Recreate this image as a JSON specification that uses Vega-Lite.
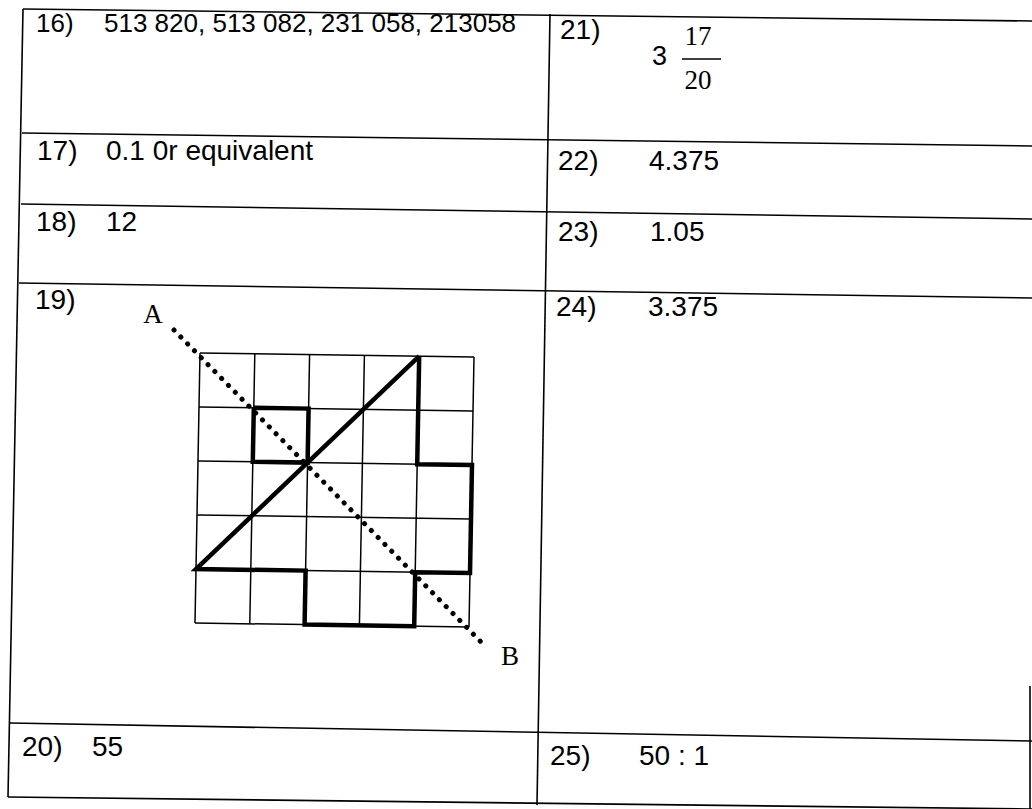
{
  "$schema": "https://vega.github.io/schema/vega-lite/v6.json",
  "width": 1032,
  "height": 809,
  "padding": 0,
  "autosize": {"type": "none"},
  "background": "white",
  "config": {"view": {"stroke": null}},
  "datasets": {
    "table": [
      {"x": 23, "y": 9, "x2": 1032, "y2": 21},
      {"x": 22, "y": 133, "x2": 1032, "y2": 146},
      {"x": 21, "y": 204, "x2": 1032, "y2": 219},
      {"x": 19, "y": 283, "x2": 1032, "y2": 298},
      {"x": 10, "y": 723, "x2": 1032, "y2": 741},
      {"x": 8, "y": 797, "x2": 1032, "y2": 809},
      {"x": 23, "y": 9, "x2": 8, "y2": 797},
      {"x": 550, "y": 14, "x2": 537, "y2": 805},
      {"x": 1030, "y": 686, "x2": 1030, "y2": 809}
    ],
    "grid": [
      {"x": 200, "y": 353, "x2": 195, "y2": 623},
      {"x": 254.8, "y": 353.8, "x2": 249.8, "y2": 623.8},
      {"x": 309.6, "y": 354.6, "x2": 304.6, "y2": 624.6},
      {"x": 364.4, "y": 355.4, "x2": 359.4, "y2": 625.4},
      {"x": 419.2, "y": 356.2, "x2": 414.2, "y2": 626.2},
      {"x": 474, "y": 357, "x2": 469, "y2": 627},
      {"x": 200, "y": 353, "x2": 474, "y2": 357},
      {"x": 199, "y": 407, "x2": 473, "y2": 411},
      {"x": 198, "y": 461, "x2": 472, "y2": 465},
      {"x": 197, "y": 515, "x2": 471, "y2": 519},
      {"x": 196, "y": 569, "x2": 470, "y2": 573},
      {"x": 195, "y": 623, "x2": 469, "y2": 627}
    ],
    "shape": [
      {"path": "outline", "k": 0, "x": 419.2, "y": 356.2},
      {"path": "outline", "k": 1, "x": 417.2, "y": 464.2},
      {"path": "outline", "k": 2, "x": 472, "y": 465},
      {"path": "outline", "k": 3, "x": 470, "y": 573},
      {"path": "outline", "k": 4, "x": 415.2, "y": 572.2},
      {"path": "outline", "k": 5, "x": 414.2, "y": 626.2},
      {"path": "outline", "k": 6, "x": 304.6, "y": 624.6},
      {"path": "outline", "k": 7, "x": 305.6, "y": 570.6},
      {"path": "outline", "k": 8, "x": 196, "y": 569},
      {"path": "outline", "k": 9, "x": 419.2, "y": 356.2},
      {"path": "square", "k": 0, "x": 253.8, "y": 407.8},
      {"path": "square", "k": 1, "x": 308.6, "y": 408.6},
      {"path": "square", "k": 2, "x": 307.6, "y": 462.6},
      {"path": "square", "k": 3, "x": 252.8, "y": 461.8},
      {"path": "square", "k": 4, "x": 253.8, "y": 407.8}
    ],
    "axisAB": [
      {"x": 174, "y": 330, "x2": 484, "y2": 645}
    ],
    "bar": [
      {"x": 682, "y": 59, "x2": 721, "y2": 59}
    ],
    "labels": [
      {"x": 36, "y": 24, "t": "16)", "s": 26},
      {"x": 104, "y": 24, "t": "513 820, 513 082, 231 058, 213058", "s": 26},
      {"x": 37, "y": 152, "t": "17)", "s": 28},
      {"x": 106, "y": 152, "t": "0.1 0r equivalent", "s": 28},
      {"x": 36, "y": 223, "t": "18)", "s": 28},
      {"x": 106, "y": 223, "t": "12", "s": 28},
      {"x": 35, "y": 301, "t": "19)", "s": 28},
      {"x": 22, "y": 748, "t": "20)", "s": 28},
      {"x": 92, "y": 748, "t": "55", "s": 28},
      {"x": 560, "y": 31, "t": "21)", "s": 28},
      {"x": 652, "y": 57, "t": "3", "s": 27},
      {"x": 558, "y": 162, "t": "22)", "s": 28},
      {"x": 649, "y": 162, "t": "4.375", "s": 28},
      {"x": 558, "y": 233, "t": "23)", "s": 28},
      {"x": 650, "y": 233, "t": "1.05", "s": 28},
      {"x": 556, "y": 308, "t": "24)", "s": 28},
      {"x": 648, "y": 308, "t": "3.375", "s": 28},
      {"x": 550, "y": 757, "t": "25)", "s": 28},
      {"x": 639, "y": 757, "t": "50 : 1", "s": 28}
    ],
    "serif": [
      {"x": 698, "y": 37, "t": "17"},
      {"x": 698, "y": 81, "t": "20"},
      {"x": 153, "y": 315, "t": "A"},
      {"x": 510, "y": 657, "t": "B"}
    ]
  },
  "encoding": {
    "x": {"field": "x", "type": "quantitative", "scale": {"domain": [0, 1032], "nice": false, "zero": false}, "axis": null},
    "y": {"field": "y", "type": "quantitative", "scale": {"domain": [0, 809], "nice": false, "zero": false, "reverse": true}, "axis": null}
  },
  "layer": [
    {
      "data": {"name": "table"},
      "mark": {"type": "rule", "stroke": "black", "strokeWidth": 1.6},
      "encoding": {"x2": {"field": "x2"}, "y2": {"field": "y2"}}
    },
    {
      "data": {"name": "grid"},
      "mark": {"type": "rule", "stroke": "black", "strokeWidth": 1.5},
      "encoding": {"x2": {"field": "x2"}, "y2": {"field": "y2"}}
    },
    {
      "data": {"name": "shape"},
      "mark": {"type": "line", "stroke": "black", "strokeWidth": 4.5, "strokeJoin": "miter"},
      "encoding": {"detail": {"field": "path"}, "order": {"field": "k", "type": "quantitative"}}
    },
    {
      "data": {"name": "axisAB"},
      "mark": {"type": "rule", "stroke": "black", "strokeWidth": 5, "strokeCap": "round", "strokeDash": [0.1, 9.6]},
      "encoding": {"x2": {"field": "x2"}, "y2": {"field": "y2"}}
    },
    {
      "data": {"name": "bar"},
      "mark": {"type": "rule", "stroke": "black", "strokeWidth": 1.5},
      "encoding": {"x2": {"field": "x2"}, "y2": {"field": "y2"}}
    },
    {
      "data": {"name": "labels"},
      "mark": {"type": "text", "font": "Liberation Sans", "align": "left", "baseline": "middle", "color": "black"},
      "encoding": {"text": {"field": "t"}, "size": {"field": "s", "type": "quantitative", "scale": null}}
    },
    {
      "data": {"name": "serif"},
      "mark": {"type": "text", "font": "Liberation Serif", "fontSize": 27, "align": "center", "baseline": "middle", "color": "black"},
      "encoding": {"text": {"field": "t"}}
    }
  ]
}
